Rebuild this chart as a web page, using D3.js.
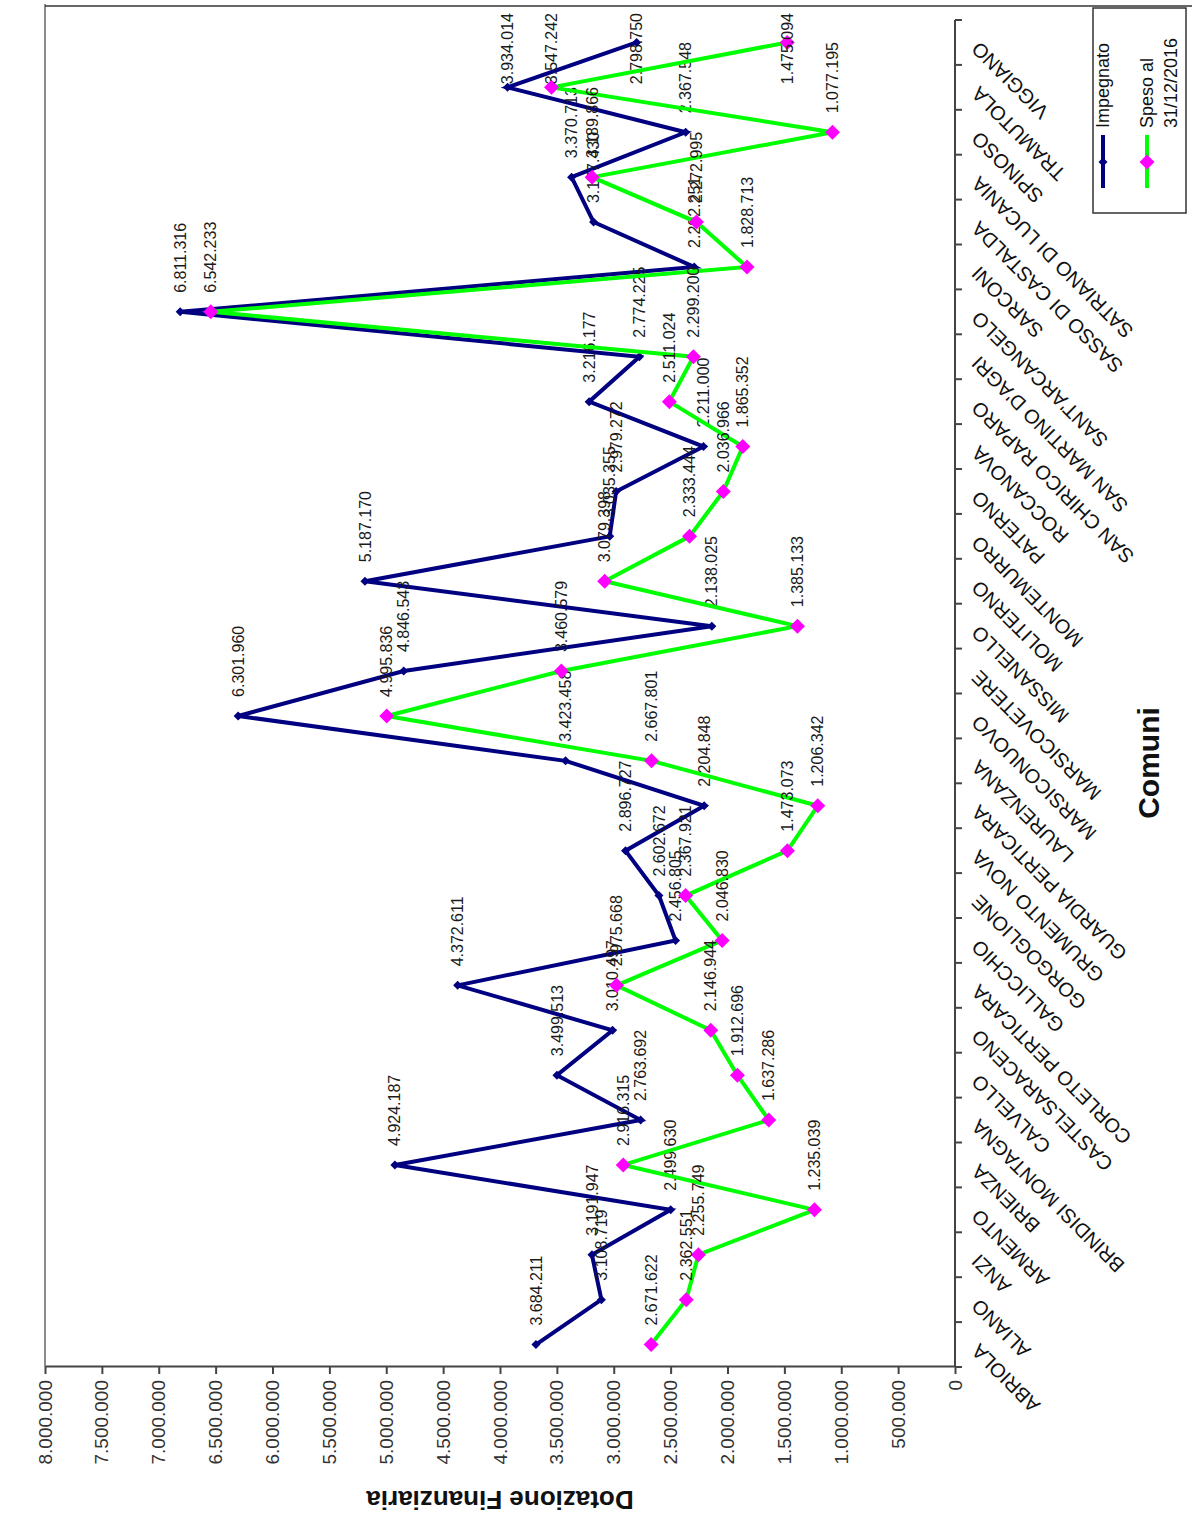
<!DOCTYPE html>
<html>
<head>
<meta charset="utf-8">
<script src="https://cdn.jsdelivr.net/npm/d3@7"></script>
<style>
  body { margin: 0; background: #fff; }
  svg { display: block; }
  text { font-family: "Liberation Sans", Arial, sans-serif; }
</style>
</head>
<body>
<svg id="chart" width="1192" height="1526"></svg>
<script>
const comuni = [
  "ABRIOLA", "ALIANO", "ANZI", "ARMENTO", "BRIENZA", "BRINDISI MONTAGNA",
  "CALVELLO", "CASTELSARACENO", "CORLETO PERTICARA", "GALLICCHIO",
  "GORGOGLIONE", "GRUMENTO NOVA", "GUARDIA PERTICARA", "LAURENZANA",
  "MARSICONUOVO", "MARSICOVETERE", "MISSANELLO", "MOLITERNO", "MONTEMURRO",
  "PATERNO", "ROCCANOVA", "SAN CHIRICO RAPARO", "SAN MARTINO D'AGRI",
  "SANT'ARCANGELO", "SARCONI", "SASSO DI CASTALDA", "SATRIANO DI LUCANIA",
  "SPINOSO", "TRAMUTOLA", "VIGGIANO"
];

const impegnato = [
  3684211, 3108719, 3191947, 2499630, 4924187, 2763692,
  3499513, 3010497, 4372611, 2456805,
  2602672, 2896727, 2204848, 3423458,
  6301960, 4846543, 2138025, 5187170, 3035355,
  2979272, 2211000, 3216177, 2774225,
  6811316, 2292251, 3177430, 3370713,
  2367548, 3934014, 2798750
];

const speso = [
  2671622, 2362551, 2255749, 1235039, 2916315, 1637286,
  1912696, 2146944, 2975668, 2046830,
  2367921, 1473073, 1206342, 2667801,
  4995836, 3460579, 1385133, 3079398, 2333444,
  2036966, 1865352, 2511024, 2299200,
  6542233, 1828713, 2272995, 3189866,
  1077195, 3547242, 1475094
];

const valueTicks = [
  0, 500000, 1000000, 1500000, 2000000, 2500000, 3000000, 3500000, 4000000,
  4500000, 5000000, 5500000, 6000000, 6500000, 7000000, 7500000, 8000000
];

const seriesNames = ["Impegnato", "Spesa"];
const legendLines = [["Impegnato"], ["Speso al", "31/12/2016"]];

const fmt = d3.formatLocale({
  decimal: ",",
  thousands: ".",
  grouping: [3],
  currency: ["", " €"]
}).format(",d");

// the original chart is drawn upright, then the whole group is turned 90° ccw
const W = 1526;
const H = 1192;
const labelEdge = 1513;

function diamond(r) {
  return `M0,${-r}L${r},0L0,${r}L${-r},0Z`;
}

function drawSeries(g, x, y, values, style) {
  const cx = d => x(d.c) + x.bandwidth() / 2;
  const data = comuni.map((c, i) => ({ c, v: values[i] }));

  g.append("path")
    .datum(data)
    .attr("fill", "none")
    .attr("stroke", style.lineColor)
    .attr("stroke-width", style.lineWidth)
    .attr("stroke-linejoin", "miter")
    .attr("d", d3.line().x(cx).y(d => y(d.v)));

  g.append("g")
    .selectAll("path")
    .data(data)
    .enter()
    .append("path")
    .attr("d", diamond(style.markerSize))
    .attr("fill", style.markerColor)
    .attr("transform", d => `translate(${cx(d)},${y(d.v)})`);

  g.append("g")
    .selectAll("text")
    .data(data)
    .enter()
    .append("text")
    .attr("x", d => cx(d) + 19)
    .attr("y", d => y(d.v))
    .attr("dy", "0.35em")
    .attr("font-size", 16)
    .attr("fill", "#1a1a1a")
    .text(d => fmt(d.v))
    .each(function() {
      // keep labels inside the chart area, like the spreadsheet does
      const len = this.getComputedTextLength();
      const x0 = +this.getAttribute("x");
      if (x0 + len > labelEdge) this.setAttribute("x", labelEdge - len);
    });
}

function main() {
  const svg = d3.select("#chart");
  svg.append("rect").attr("width", 1192).attr("height", 1526).attr("fill", "#fff");

  const g = svg.append("g").attr("transform", `translate(0,${W}) rotate(-90)`);

  const x = d3.scaleBand().domain(comuni).range([159, 1506]).padding(0);
  const y = d3.scaleLinear().domain([0, 8000000]).range([955, 45]);

  // plot / chart border lines
  g.append("line")
    .attr("x1", 159).attr("x2", 1522)
    .attr("y1", 45).attr("y2", 45)
    .attr("stroke", "#666").attr("stroke-width", 1.5);
  g.append("line")
    .attr("x1", 1520).attr("x2", 1520)
    .attr("y1", 45).attr("y2", 1192)
    .attr("stroke", "#333").attr("stroke-width", 1.5);

  // value axis
  const yAxis = d3.axisLeft(y)
    .tickValues(valueTicks)
    .tickFormat(fmt)
    .tickSize(7)
    .tickSizeOuter(0)
    .tickPadding(6);
  const ya = g.append("g").attr("transform", `translate(${x.range()[0]},0)`).call(yAxis);
  ya.select(".domain").attr("stroke", "#444").attr("stroke-width", 2);
  ya.selectAll(".tick line").attr("stroke", "#444").attr("stroke-width", 2);
  ya.selectAll(".tick text")
    .attr("font-size", 19)
    .attr("fill", "#333")
    .attr("font-family", "Liberation Sans, Arial, sans-serif");

  // category axis
  const xa = g.append("g").attr("transform", `translate(0,${y(0)})`);
  xa.append("line")
    .attr("x1", x.range()[0]).attr("x2", x.range()[1])
    .attr("stroke", "#444").attr("stroke-width", 2);
  const bounds = comuni.map(c => x(c)).concat([x.range()[1]]);
  xa.selectAll("line.tick")
    .data(bounds)
    .enter()
    .append("line")
    .attr("class", "tick")
    .attr("x1", d => d).attr("x2", d => d)
    .attr("y1", 0).attr("y2", 7)
    .attr("stroke", "#444").attr("stroke-width", 2);
  xa.selectAll("text")
    .data(comuni)
    .enter()
    .append("text")
    .attr("transform", c => `translate(${x(c) + x.bandwidth() / 2 - 3},20) rotate(-45)`)
    .attr("text-anchor", "end")
    .attr("dy", "0.35em")
    .attr("font-size", 20)
    .attr("fill", "#111")
    .text(c => c);

  // series
  drawSeries(g, x, y, impegnato, {
    lineColor: "#000080", lineWidth: 4, markerColor: "#000080", markerSize: 4.5
  });
  drawSeries(g, x, y, speso, {
    lineColor: "#00ff00", lineWidth: 4, markerColor: "#ff00ff", markerSize: 7.5
  });

  // axis titles
  g.append("text")
    .attr("transform", `translate(26,500) rotate(-90)`)
    .attr("text-anchor", "middle")
    .attr("dy", "0.35em")
    .attr("font-size", 26)
    .attr("font-weight", "bold")
    .attr("fill", "#111")
    .text("Dotazione Finanziaria");
  g.append("text")
    .attr("x", 763)
    .attr("y", 1148)
    .attr("text-anchor", "middle")
    .attr("dy", "0.35em")
    .attr("font-size", 30)
    .attr("font-weight", "bold")
    .attr("fill", "#111")
    .text("Comuni");

  // legend
  const lg = g.append("g");
  lg.append("rect")
    .attr("x", 1313).attr("y", 1093)
    .attr("width", 205).attr("height", 93)
    .attr("fill", "#fff").attr("stroke", "#333").attr("stroke-width", 1.5);
  const legendStyle = [
    { line: "#000080", marker: "#000080", size: 4.5, v: 1103 },
    { line: "#00ff00", marker: "#ff00ff", size: 7.5, v: 1147 }
  ];
  seriesNames.forEach((name, i) => {
    const s = legendStyle[i];
    lg.append("line")
      .attr("x1", 1338).attr("x2", 1391)
      .attr("y1", s.v).attr("y2", s.v)
      .attr("stroke", s.line).attr("stroke-width", 4);
    lg.append("path")
      .attr("d", diamond(s.size))
      .attr("fill", s.marker)
      .attr("transform", `translate(1364,${s.v})`);
    lg.append("text")
      .attr("x", 1398)
      .attr("y", s.v)
      .attr("font-size", 18)
      .attr("fill", "#111")
      .selectAll("tspan")
      .data(legendLines[i])
      .enter()
      .append("tspan")
      .attr("x", 1398)
      .attr("dy", (d, j) => (j === 0 ? "0.35em" : "1.3em"))
      .text(d => d);
  });
}

main();
</script>
</body>
</html>
